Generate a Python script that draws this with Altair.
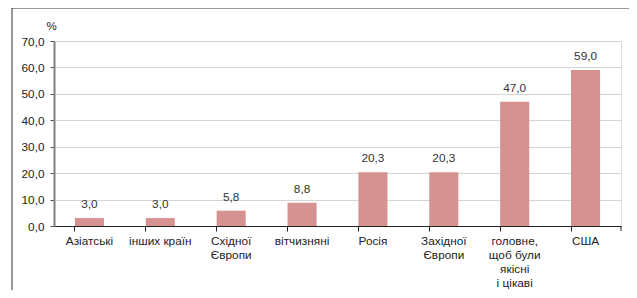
import altair as alt
import pandas as pd

categories = ["Азіатські", "інших країн", "Східної\nЄвропи", "вітчизняні", "Росія",
              "Західної\nЄвропи", "головне,\nщоб були\nякісні\nі цікаві", "США"]
values = [3.0, 3.0, 5.8, 8.8, 20.3, 20.3, 47.0, 59.0]
y_ticks = [0, 10, 20, 30, 40, 50, 60, 70]

df = pd.DataFrame({"cat": categories, "val": values})
df["lbl"] = [f"{v:.1f}".replace(".", ",") for v in values]

W, H = 567, 185
FONT = "Liberation Sans"

x = alt.X("cat:N", sort=categories,
          scale=alt.Scale(paddingInner=0.59, paddingOuter=0.295),
          axis=alt.Axis(title=None, labelAngle=0, bandPosition=0,
                        labelExpr="split(datum.label, '\\n')",
                        labelFont=FONT, labelFontSize=11.8, labelColor="#222",
                        labelPadding=4, labelLineHeight=14, labelBaseline="top",
                        labelOverlap=False,
                        domainColor="#222", domainWidth=1,
                        tickColor="#222", tickSize=5, grid=False))

y = alt.Y("val:Q", scale=alt.Scale(domain=[0, 70], nice=False),
          axis=alt.Axis(title="%", titleAngle=0, titleX=-3, titleY=-10,
                        titleAlign="center", titleFont=FONT, titleFontSize=11.5,
                        titleFontWeight="normal", titleColor="#222",
                        values=y_ticks, labelOverlap=False,
                        labelExpr="replace(format(datum.value, '.1f'), '.', ',')",
                        labelFont=FONT, labelFontSize=11.8, labelColor="#222",
                        labelPadding=6,
                        domainColor="#808080", domainWidth=2,
                        tickColor="#555", tickSize=4,
                        gridColor="#d4d4d4", gridWidth=1))

base = alt.Chart(df).encode(x=x, y=y)
bars = base.mark_bar(color="#D69191")
text = base.mark_text(dy=-8, font=FONT, fontSize=11.8, color="#333",
                      baseline="bottom").encode(text="lbl:N")

end_tick = alt.Chart(df.head(1)).mark_rule(color="#222").encode(
    x=alt.value(W), y=alt.value(H), y2=alt.value(H + 5))
frame_top = alt.Chart(df.head(1)).mark_rule(color="#333", strokeWidth=1).encode(
    x=alt.value(-42), x2=alt.value(W + 100), y=alt.value(-33))
frame_left = alt.Chart(df.head(1)).mark_rule(color="#333", strokeWidth=1).encode(
    x=alt.value(-42), y=alt.value(-33), y2=alt.value(H + 100))

chart = alt.layer(bars, text, end_tick, frame_top, frame_left).properties(
    width=W, height=H,
    autosize=alt.AutoSizeParams(type="none"),
    padding={"left": 46, "top": 33, "right": 8, "bottom": 64},
).configure_view(strokeWidth=0).configure(background="white")

chart.save("out.html", embed_options={"renderer": "svg", "actions": False})
